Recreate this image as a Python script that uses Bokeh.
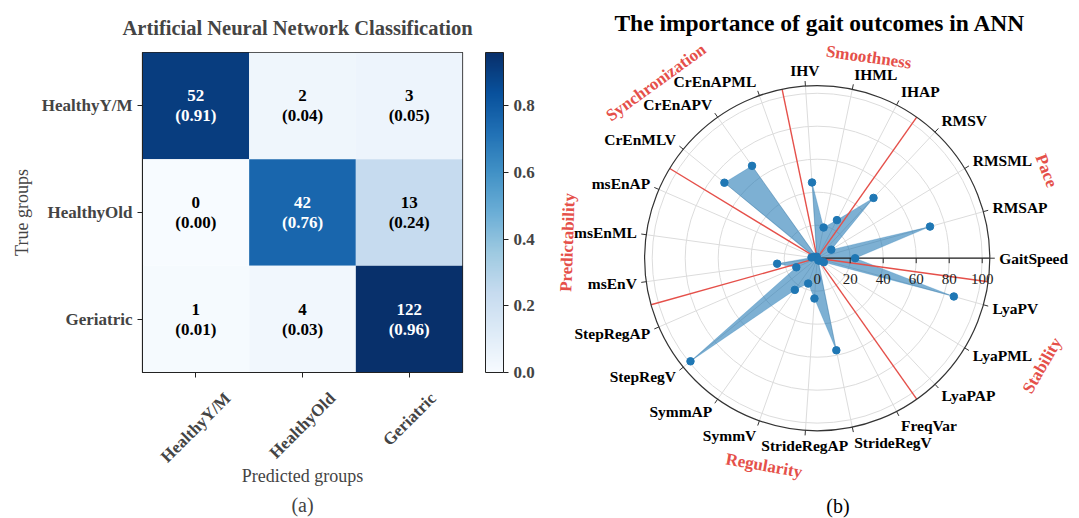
import math
import numpy as np
from bokeh.plotting import figure
from bokeh.layouts import row
from bokeh.models import (FactorRange, Range1d, ColumnDataSource, LinearColorMapper, ColorBar,
                          FixedTicker, PrintfTickFormatter, LinearAxis, Title)
from bokeh.transform import transform
from bokeh.palettes import Blues256
from bokeh.core.properties import value
from bokeh.embed import file_html
from bokeh.resources import INLINE

# ---------------- data ----------------
GROUPS_AXIS = ["HealthyY/M", "HealthyOld", "Geriatric"]
COUNTS = [[52, 2, 3],
          [0, 42, 13],
          [1, 4, 122]]
RATES = [[0.91, 0.04, 0.05],
         [0.00, 0.76, 0.24],
         [0.01, 0.03, 0.96]]
CB_TICKS = [0.0, 0.2, 0.4, 0.6, 0.8]

FEATURES = ["GaitSpeed", "RMSAP", "RMSML", "RMSV", "IHAP", "IHML", "IHV",
            "CrEnAPML", "CrEnAPV", "CrEnMLV", "msEnAP", "msEnML", "msEnV",
            "StepRegAP", "StepRegV", "SymmAP", "SymmV", "StrideRegAP", "StrideRegV",
            "FreqVar", "LyaPAP", "LyaPML", "LyaPV"]
IMPORTANCE = [23, 71, 10, 50, 26, 19, 46,
              1, 68.5, 72.5, 2, 3.5, 24.5,
              13.8, 99, 23.5, 16.3, 24.5, 57,
              1.5, 2, 4.7, 86]
CATEGORIES = ["Pace", "Smoothness", "Synchronization", "Predictability", "Regularity", "Stability"]
CATEGORY_SIZES = [4, 3, 3, 3, 7, 3]
R_TICKS = [0, 20, 40, 60, 80, 100]

FONT = value("Liberation Serif")
RED = "#e5504a"
BLUE = "#1f77b4"
PAGE_H = 518


def no_frame_align(fig):
    try:
        fig.frame_align = False
    except Exception:
        pass


# ---------------- (a) confusion matrix ----------------
NG = len(GROUPS_AXIS)
FRAME = 320
B_LEFT, B_TOP, B_RIGHT = 142, 52, 90
mapper = LinearColorMapper(palette=list(reversed(Blues256)), low=0.0, high=max(max(r) for r in RATES))

xs, ys, nv, lab, tcol = [], [], [], [], []
for i, t in enumerate(GROUPS_AXIS):
    for j, pr in enumerate(GROUPS_AXIS):
        xs.append(j + 0.5)
        ys.append(t)
        nv.append(RATES[i][j])
        lab.append(f"{COUNTS[i][j]}\n({RATES[i][j]:.2f})")
        tcol.append("white" if RATES[i][j] > 0.5 else "black")
src = ColumnDataSource(dict(pred=xs, true=ys, norm=nv, label=lab, tcol=tcol))

p1 = figure(x_range=Range1d(0, NG), y_range=FactorRange(*reversed(GROUPS_AXIS)),
            frame_width=FRAME, frame_height=FRAME,
            min_border_left=B_LEFT, min_border_top=B_TOP,
            min_border_bottom=PAGE_H - B_TOP - FRAME, min_border_right=B_RIGHT,
            x_axis_location=None, output_backend="svg", toolbar_location=None)
no_frame_align(p1)
p1.rect(x="pred", y="true", width=1, height=1, source=src,
        fill_color=transform("norm", mapper), line_color=None)
p1.text(x="pred", y="true", text="label", source=src, text_color="tcol",
        text_align="center", text_baseline="middle", text_font=FONT,
        text_font_style="bold", text_font_size="17px", text_line_height=1.05)
p1.grid.visible = False
p1.outline_line_color = "#222222"
p1.outline_line_width = 1.2

p1.title.text = "Artificial Neural Network Classification"
p1.title.align = "left"
p1.title.text_font = "Liberation Serif"
p1.title.text_font_size = "20.5px"
p1.title.text_font_style = "bold"
p1.title.standoff = 28
p1.title.offset = -20

ya = p1.yaxis[0]
ya.axis_label = "True groups"
ya.axis_label_text_font = "Liberation Serif"
ya.axis_label_text_font_style = "normal"
ya.axis_label_text_font_size = "18px"
ya.axis_label_standoff = 7
ya.major_label_text_font = "Liberation Serif"
ya.major_label_text_font_style = "bold"
ya.major_label_text_font_size = "17px"
ya.major_label_standoff = 5
ya.major_tick_out = 5
ya.major_tick_in = 0
ya.axis_line_color = "#222222"
ya.major_tick_line_color = "#222222"

# x axis: tick marks at cell centres (minor ticks), rotated labels centred under them
centre_ticks = [k + 0.5 for k in range(NG)]
LABEL_SHIFT_PX = [32, 30, 24]
cell_px = FRAME / NG
lbl_ticks = [round(k + 0.5 + s / cell_px, 3) for k, s in enumerate(LABEL_SHIFT_PX)]
xa = LinearAxis(ticker=FixedTicker(ticks=lbl_ticks, minor_ticks=centre_ticks),
                major_label_overrides={t: g for t, g in zip(lbl_ticks, GROUPS_AXIS)},
                major_label_orientation=math.pi / 4, major_tick_out=0, major_tick_in=0,
                major_tick_line_color=None,
                minor_tick_out=5, minor_tick_in=0, minor_tick_line_color="#222222",
                axis_line_color="#222222",
                major_label_standoff=18,
                major_label_text_font="Liberation Serif", major_label_text_font_style="bold",
                major_label_text_font_size="17px",
                axis_label="Predicted groups", axis_label_text_font="Liberation Serif",
                axis_label_text_font_style="normal", axis_label_text_font_size="18px",
                axis_label_standoff=-10)
p1.add_layout(xa, "below")
p1.add_layout(Title(text="(a)", align="center", offset=-3, text_font="Liberation Serif",
                    text_font_style="normal", text_font_size="20px", standoff=4), "below")

cb = ColorBar(color_mapper=mapper, ticker=FixedTicker(ticks=CB_TICKS),
              formatter=PrintfTickFormatter(format="%.1f"),
              width=18, height=FRAME, padding=0, margin=0, location=(FRAME + 23, 0),
              bar_line_color="#222222", major_tick_out=5, major_tick_in=0,
              major_tick_line_color="#222222", minor_tick_line_color=None,
              major_label_text_font="Liberation Serif", major_label_text_font_style="bold",
              major_label_text_font_size="17px", label_standoff=5,
              border_line_color=None, background_fill_color=None)
p1.add_layout(cb, "center")

# ---------------- (b) radar ----------------
PX = 1.65          # pixels per unit of importance
RMAX = 104.6
W2, H2 = 525, PAGE_H
CX, CY = 264.7, 257.7   # centre in figure pixels
p2 = figure(frame_width=W2, frame_height=H2,
            x_range=Range1d(-CX / PX, (W2 - CX) / PX),
            y_range=Range1d(-(H2 - CY) / PX, CY / PX),
            min_border=0, x_axis_location=None, y_axis_location=None,
            outline_line_color=None, output_backend="svg", toolbar_location=None)
no_frame_align(p2)
p2.grid.visible = False

N = len(FEATURES)
step = 2 * np.pi / N
theta = np.arange(N) * step
cos_t, sin_t = np.cos(theta), np.sin(theta)

# grid
p2.circle(x=0, y=0, radius=R_TICKS[1:], fill_color=None, line_color="#dcdcdc", line_width=1)
p2.segment(x0=0, y0=0, x1=RMAX * cos_t, y1=RMAX * sin_t, line_color="#dcdcdc", line_width=1)

# importance polygon
vals = np.array(IMPORTANCE, dtype=float)
px_, py_ = vals * cos_t, vals * sin_t
p2.patch(x=list(px_) + [px_[0]], y=list(py_) + [py_[0]], fill_color=BLUE, fill_alpha=0.58,
         line_color=BLUE, line_alpha=0.3, line_width=0.8)

# category dividers
bounds = np.cumsum(CATEGORY_SIZES) - 0.5
bth = bounds * step
p2.segment(x0=0, y0=0, x1=RMAX * np.cos(bth), y1=RMAX * np.sin(bth), line_color=RED, line_width=1.4)

# radial axis along 0 deg
p2.segment(x0=[0], y0=[0], x1=[RMAX], y1=[0], line_color="#222222", line_width=1.2)
p2.segment(x0=R_TICKS, y0=0, x1=R_TICKS, y1=-5 / PX, line_color="#222222", line_width=1)
p2.text(x=R_TICKS, y=-20.5 / PX, text=[str(t) for t in R_TICKS], text_align="center",
        text_baseline="middle", text_font=FONT, text_font_size="15px", text_color="#222222")

# outer circle + spoke ticks
p2.circle(x=0, y=0, radius=RMAX, fill_color=None, line_color="#333333", line_width=1.2)
p2.segment(x0=RMAX * cos_t, y0=RMAX * sin_t, x1=(RMAX + 5 / PX) * cos_t, y1=(RMAX + 5 / PX) * sin_t,
           line_color="#333333", line_width=1)

# points
p2.scatter(x=px_, y=py_, size=7.5, fill_color=BLUE, line_color=BLUE)

# spoke labels
RL = 182 / PX
aligns = ["left" if c > 0.1 else ("right" if c < -0.1 else "center") for c in cos_t]
p2.text(x=RL * cos_t, y=RL * sin_t, text=FEATURES, text_align=aligns, text_baseline="middle",
        y_offset=list(-sin_t * 6), text_font=FONT, text_font_style="bold",
        text_font_size="15.5px", text_color="black")

# category labels (angle deg, radius units, rotation deg)
CAT_LAYOUT = [(20.9, 148.8, -69), (75.6, 125.8, -8), (132.5, 144.6, 36),
              (176.4, 151.6, 88), (255.6, 129.7, -10), (334.5, 151.0, 60)]
ca = np.radians([c[0] for c in CAT_LAYOUT])
cr = np.array([c[1] for c in CAT_LAYOUT])
p2.text(x=cr * np.cos(ca), y=cr * np.sin(ca), text=CATEGORIES,
        angle=list(np.radians([c[2] for c in CAT_LAYOUT])),
        text_align="center", text_baseline="middle", text_font=FONT, text_font_style="bold",
        text_font_size="17px", text_color=RED)

# title and caption
p2.text(x=[(819.5 - 552 - CX) / PX], y=[(CY - 22) / PX], text=["The importance of gait outcomes in ANN"],
        text_align="center", text_baseline="middle", text_font=FONT, text_font_style="bold",
        text_font_size="23.5px", text_color="black")
p2.text(x=[12.6], y=[(CY - 505) / PX], text=["(b)"], text_align="center", text_baseline="middle",
        text_font=FONT, text_font_size="20px", text_color="black")

layout = row(p1, p2)
open("out.html", "w").write(file_html(layout, INLINE))
